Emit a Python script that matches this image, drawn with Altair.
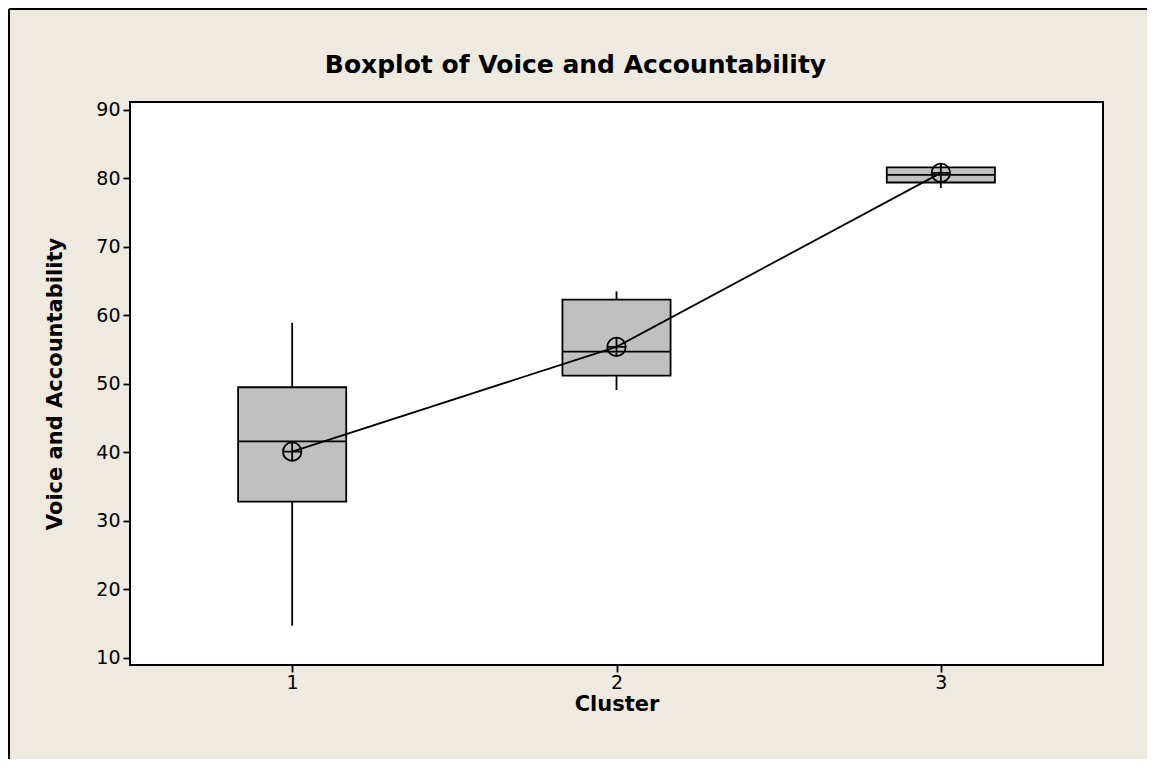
import altair as alt
import pandas as pd

clusters = [1, 2, 3]
whisker_low = [14.7, 49.1, 78.6]
q1 = [32.8, 51.2, 79.4]
median = [41.6, 54.7, 80.5]
q3 = [49.5, 62.3, 81.6]
whisker_high = [58.9, 63.5, 81.9]
means = [40.1, 55.4, 80.8]
y_ticks = [10, 20, 30, 40, 50, 60, 70, 80, 90]
x_ticks = [1, 2, 3]

df = pd.DataFrame({
    "cluster": clusters, "lo": whisker_low, "q1": q1, "med": median,
    "q3": q3, "hi": whisker_high, "mean": means,
})

BG = "#EEEAE0"
FONT = "DejaVu Sans"
LW = 1.8

xs = alt.Scale(domain=[0.5, 3.5], nice=False, zero=False)
ys = alt.Scale(domain=[8.95, 91.15], nice=False, zero=False)

x_enc = alt.X("cluster:Q", scale=xs,
              axis=alt.Axis(values=x_ticks, format="d", title="Cluster", grid=False))
y_axis = alt.Axis(values=y_ticks, title="Voice and Accountability", grid=False)

base = alt.Chart(df).transform_calculate(
    left="datum.cluster - 0.1667", right="datum.cluster + 0.1667"
)

# decorative outer frame (left and top edges of the figure border)
frame_df = pd.DataFrame({"k": [0]})
frame_v = alt.Chart(frame_df).mark_rule(color="black", strokeWidth=2).encode(
    x=alt.value(-121), y=alt.value(-93), y2=alt.value(700))
frame_h = alt.Chart(frame_df).mark_rule(color="black", strokeWidth=2).encode(
    x=alt.value(-121), x2=alt.value(1100), y=alt.value(-93))

whisk_lo = base.mark_rule(color="black", strokeWidth=LW).encode(
    x=x_enc, y=alt.Y("lo:Q", scale=ys, axis=y_axis), y2="q1:Q")
whisk_hi = base.mark_rule(color="black", strokeWidth=LW).encode(
    x="cluster:Q", y=alt.Y("q3:Q", scale=ys), y2="hi:Q")
box = base.mark_rect(fill="#C0C0C0", stroke="black", strokeWidth=LW).encode(
    x=alt.X("left:Q", scale=xs), x2="right:Q",
    y=alt.Y("q1:Q", scale=ys), y2="q3:Q")
med = base.mark_rule(color="black", strokeWidth=LW).encode(
    x=alt.X("left:Q", scale=xs), x2="right:Q", y=alt.Y("med:Q", scale=ys))
line = base.mark_line(color="black", strokeWidth=LW).encode(
    x=alt.X("cluster:Q", scale=xs), y=alt.Y("mean:Q", scale=ys))
pts = base.mark_point(
    shape="M-1,0A1,1,0,1,1,1,0A1,1,0,1,1,-1,0ZM-1,0L1,0M0,-1L0,1",
    size=340, filled=False, color="black", strokeWidth=LW, opacity=1,
).encode(x=alt.X("cluster:Q", scale=xs), y=alt.Y("mean:Q", scale=ys))

chart = alt.layer(frame_v, frame_h, whisk_lo, whisk_hi, box, med, line, pts).properties(
    width=973, height=563,
    padding={"left": 122, "top": 94, "right": 44, "bottom": 94},
    autosize=alt.AutoSizeParams(type="none"),
    background=BG,
    title=alt.TitleParams("Boxplot of Voice and Accountability", font=FONT,
                          fontSize=25, fontWeight="bold", color="black",
                          anchor="middle", frame="group", offset=-70, dx=-41),
).configure_view(
    fill="white", stroke="black", strokeWidth=2
).configure_axis(
    labelFont=FONT, titleFont=FONT, labelFontSize=19, titleFontSize=21,
    titleFontWeight="bold", labelColor="black", titleColor="black",
    domain=False, tickColor="black", tickSize=7, tickWidth=1.8,
).configure_axisY(titlePadding=30, labelPadding=3).configure_axisX(
    titlePadding=1, labelPadding=1)

chart.save("out.html", embed_options={"renderer": "svg", "actions": False})
